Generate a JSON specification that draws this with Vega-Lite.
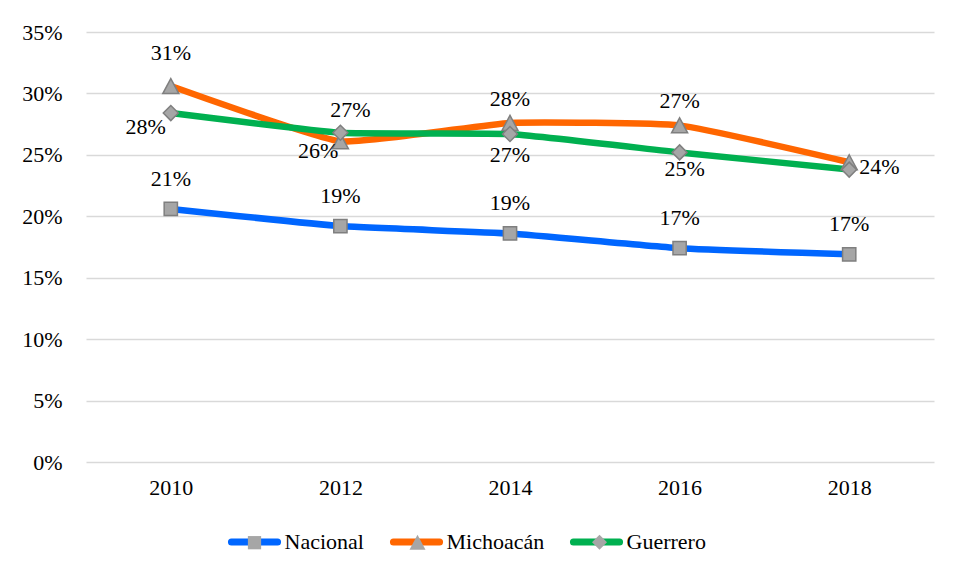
{
  "$schema": "https://vega.github.io/schema/vega-lite/v6.json",
  "width": 848,
  "height": 430,
  "autosize": {"type": "none"},
  "padding": {"left": 86, "top": 32, "right": 30, "bottom": 118},
  "background": "white",
  "config": {
    "view": {"stroke": null},
    "font": "Liberation Serif",
    "text": {"font": "Liberation Serif"},
    "legend": {"labelFont": "Liberation Serif"}
  },
  "data": {
    "values": [
      {"series": "Nacional", "year": "2010", "value": 0.206},
      {"series": "Nacional", "year": "2012", "value": 0.192},
      {"series": "Nacional", "year": "2014", "value": 0.186},
      {"series": "Nacional", "year": "2016", "value": 0.174},
      {"series": "Nacional", "year": "2018", "value": 0.169},
      {"series": "Michoacán", "year": "2010", "value": 0.306},
      {"series": "Michoacán", "year": "2012", "value": 0.261},
      {"series": "Michoacán", "year": "2014", "value": 0.276},
      {"series": "Michoacán", "year": "2016", "value": 0.274},
      {"series": "Michoacán", "year": "2018", "value": 0.244},
      {"series": "Guerrero", "year": "2010", "value": 0.284},
      {"series": "Guerrero", "year": "2012", "value": 0.268},
      {"series": "Guerrero", "year": "2014", "value": 0.267},
      {"series": "Guerrero", "year": "2016", "value": 0.252},
      {"series": "Guerrero", "year": "2018", "value": 0.238}
    ]
  },
  "encoding": {
    "x": {
      "field": "year", "type": "ordinal",
      "scale": {"type": "point", "padding": 0.5},
      "axis": {"title": null, "labelAngle": 0, "domain": false, "ticks": false, "tickSize": 0, "grid": false, "labelPadding": 15, "labelFontSize": 22, "labelFont": "Liberation Serif", "labelColor": "#000000"}
    },
    "y": {
      "field": "value", "type": "quantitative",
      "scale": {"domain": [0, 0.35], "nice": false, "zero": true},
      "axis": {"title": null, "format": ".0%", "values": [0, 0.05, 0.1, 0.15, 0.2, 0.25, 0.3, 0.35], "domain": false, "ticks": false, "tickSize": 0, "labelPadding": 24, "labelFontSize": 22, "labelFont": "Liberation Serif", "labelColor": "#000000", "gridColor": "#d9d9d9", "gridWidth": 1.3}
    }
  },
  "layer": [
    {
      "mark": {"type": "line", "strokeWidth": 6.5, "interpolate": "cardinal", "tension": 0.6, "strokeCap": "round", "strokeJoin": "round"},
      "encoding": {
        "color": {
          "field": "series", "type": "nominal",
          "sort": ["Nacional", "Michoacán", "Guerrero"],
          "scale": {"range": ["#0066ff", "#ff6600", "#00b050"]},
          "legend": {
            "orient": "none", "legendX": 138.5, "legendY": 480, "direction": "horizontal", "columns": 3,
            "title": null, "padding": 0,
            "symbolType": "M-0.87,0H0.87", "symbolSize": 2809, "symbolStrokeWidth": 7,
            "labelFontSize": 22, "labelFont": "Liberation Serif", "labelColor": "#000000", "labelOffset": 0, "columnPadding": 14,
            "encode": {"symbols": {"update": {"strokeCap": {"value": "round"}}}}
          }
        }
      }
    },
    {
      "mark": {"type": "point", "filled": true, "fill": "#a6a6a6", "stroke": "#7f7f7f", "strokeWidth": 1.5, "size": 2809, "opacity": 1},
      "encoding": {
        "shape": {
          "field": "series", "type": "nominal",
          "scale": {"domain": ["Nacional", "Michoacán", "Guerrero"], "range": ["M-0.9717,0M3.571,0M-0.25,-0.25H0.25V0.25H-0.25Z", "M-0.9717,0M4.30,0M0,-0.283L0.302,0.283L-0.302,0.283Z", "M-0.9717,0M3.57,0M0,-0.283L0.283,0L0,0.283L-0.283,0Z"]},
          "legend": {
            "orient": "none", "legendX": 138.5, "legendY": 480, "direction": "horizontal", "columns": 3,
            "title": null, "padding": 0,
            "symbolSize": 2809, "symbolStrokeWidth": 7, "symbolFillColor": "#a6a6a6", "symbolStrokeColor": "#7f7f7f", "symbolOpacity": 1,
            "labelFontSize": 22, "labelFont": "Liberation Serif", "labelOffset": 0, "columnPadding": 14,
            "labelExpr": "''",
            "encode": {"symbols": {"update": {"fill": {"value": "#a6a6a6"}, "stroke": {"value": "#7f7f7f"}, "strokeWidth": {"value": 1.5}, "opacity": {"value": 1}}}}
          }
        }
      }
    },
    {
      "transform": [{"filter": "datum.series === 'Nacional'"}],
      "mark": {"type": "text", "fontSize": 22, "color": "#000000", "baseline": "middle", "align": "center", "dy": -30},
      "encoding": {"text": {"field": "value", "type": "quantitative", "format": ".0%"}}
    },
    {
      "transform": [{"filter": "datum.series === 'Michoacán' && datum.year === '2010'"}],
      "mark": {"type": "text", "fontSize": 22, "color": "#000000", "baseline": "middle", "align": "center", "dy": -33},
      "encoding": {"text": {"field": "value", "type": "quantitative", "format": ".0%"}}
    },
    {
      "transform": [{"filter": "datum.series === 'Michoacán' && (datum.year === '2014' || datum.year === '2016')"}],
      "mark": {"type": "text", "fontSize": 22, "color": "#000000", "baseline": "middle", "align": "center", "dy": -24},
      "encoding": {"text": {"field": "value", "type": "quantitative", "format": ".0%"}}
    },
    {
      "transform": [{"filter": "datum.series === 'Michoacán' && datum.year === '2012'"}],
      "mark": {"type": "text", "fontSize": 22, "color": "#000000", "baseline": "middle", "align": "right", "dx": -2, "dy": 10},
      "encoding": {"text": {"field": "value", "type": "quantitative", "format": ".0%"}}
    },
    {
      "transform": [{"filter": "datum.series === 'Michoacán' && datum.year === '2018'"}],
      "mark": {"type": "text", "fontSize": 22, "color": "#000000", "baseline": "middle", "align": "left", "dx": 10, "dy": 5},
      "encoding": {"text": {"field": "value", "type": "quantitative", "format": ".0%"}}
    },
    {
      "transform": [{"filter": "datum.series === 'Guerrero' && datum.year === '2010'"}],
      "mark": {"type": "text", "fontSize": 22, "color": "#000000", "baseline": "middle", "align": "right", "dx": -5, "dy": 14},
      "encoding": {"text": {"field": "value", "type": "quantitative", "format": ".0%"}}
    },
    {
      "transform": [{"filter": "datum.series === 'Guerrero' && datum.year === '2012'"}],
      "mark": {"type": "text", "fontSize": 22, "color": "#000000", "baseline": "middle", "align": "center", "dx": 10, "dy": -23},
      "encoding": {"text": {"field": "value", "type": "quantitative", "format": ".0%"}}
    },
    {
      "transform": [{"filter": "datum.series === 'Guerrero' && datum.year === '2014'"}],
      "mark": {"type": "text", "fontSize": 22, "color": "#000000", "baseline": "middle", "align": "center", "dy": 21},
      "encoding": {"text": {"field": "value", "type": "quantitative", "format": ".0%"}}
    },
    {
      "transform": [{"filter": "datum.series === 'Guerrero' && datum.year === '2016'"}],
      "mark": {"type": "text", "fontSize": 22, "color": "#000000", "baseline": "middle", "align": "center", "dx": 5, "dy": 17},
      "encoding": {"text": {"field": "value", "type": "quantitative", "format": ".0%"}}
    }
  ]
}
